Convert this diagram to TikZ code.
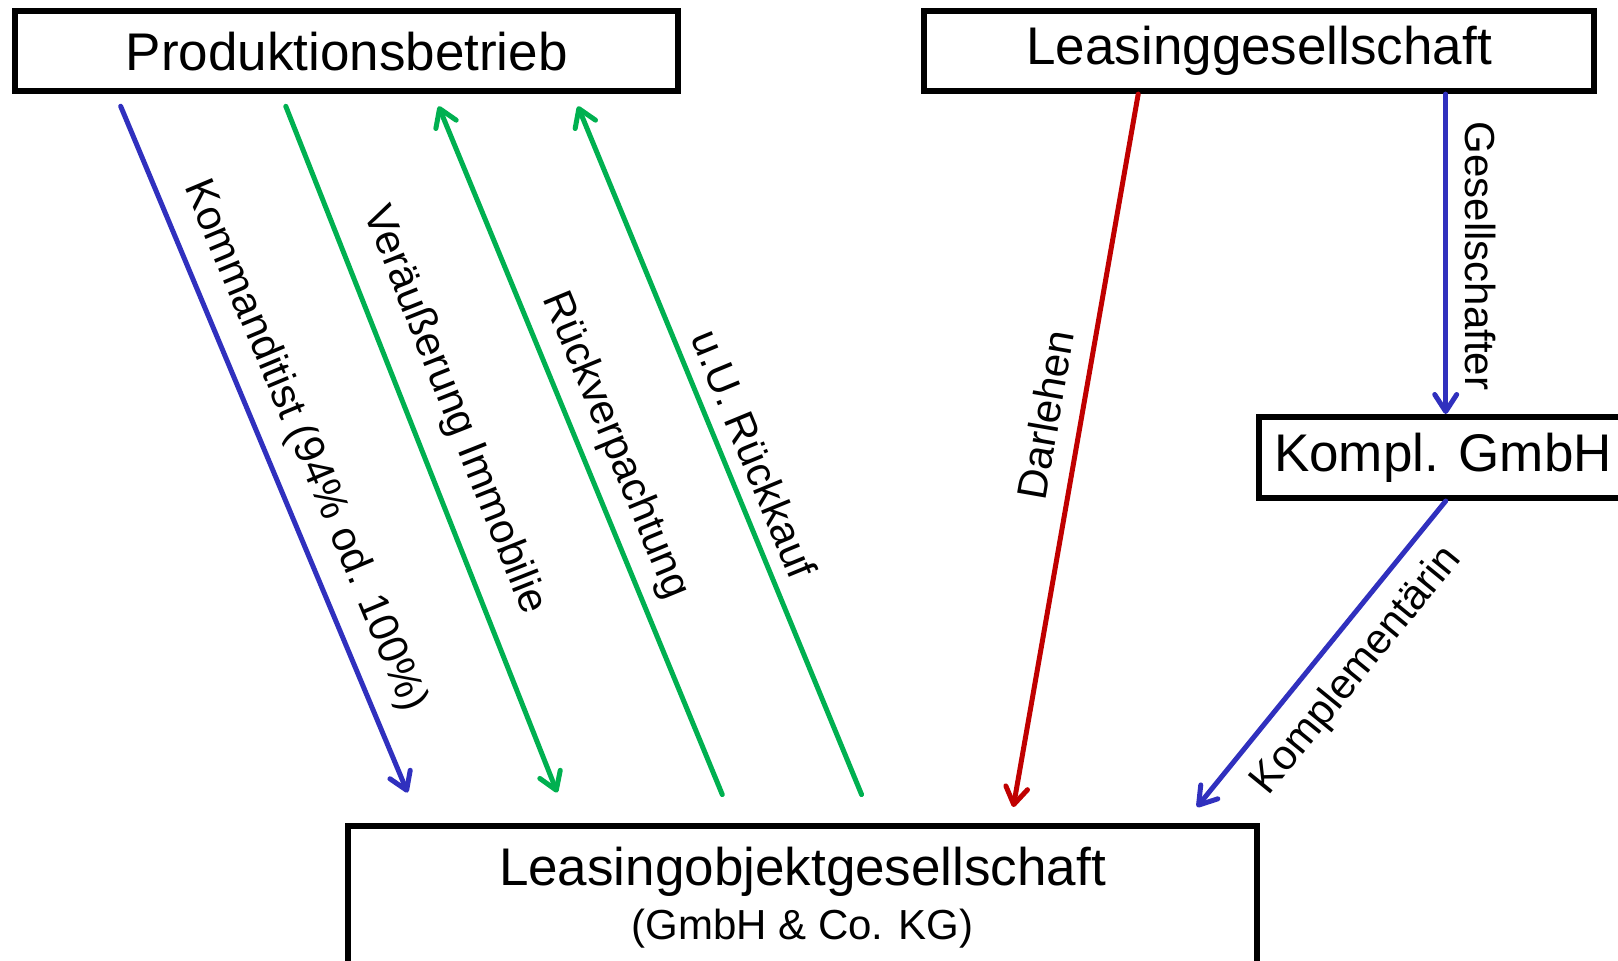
\documentclass[tikz,border=0pt]{standalone}
\usepackage{fontspec}
\setmainfont{Liberation Sans}
\usetikzlibrary{arrows.meta}
\definecolor{flowblue}{RGB}{48,48,190}
\definecolor{flowgreen}{RGB}{0,176,80}
\definecolor{flowred}{RGB}{192,0,0}
\begin{document}
\begin{tikzpicture}[x=0.5pt,y=-0.5pt,
  entity/.style={draw, line width=3pt, rectangle, inner sep=0pt,
    font=\fontsize{26.5}{27}\selectfont},
  flow/.style={line width=2.5pt, line cap=round,
    -{Straight Barb[length=8.5pt,width=11pt,round]}},
  lbl/.style={font=\fontsize{21}{25}\selectfont, inner sep=0pt},
]
\useasboundingbox (0,0) rectangle (1618,960);

% parties
\node[entity, minimum width=331.3pt, minimum height=39.9pt] (pb) at (346.7,51.2) {Produktionsbetrieb};
\node[entity, minimum width=334.75pt, minimum height=39.9pt] (lg) at (1259.2,51.2) {Leasinggesellschaft};
\node[entity, minimum width=184pt, minimum height=40.5pt] (kg) at (1443,457.5) {Kompl. GmbH};
\node[entity, minimum width=454.5pt, minimum height=72pt, align=center] (lo) at (802.5,898)
  {Leasingobjektgesellschaft\\{\fontsize{21}{27}\selectfont (GmbH \& Co. KG)}};

% free ends of the relations between the operating company and the object company
\coordinate (k1) at (120.7,106.3);  \coordinate (k2) at (407.6,792.5);
\coordinate (v1) at (285.8,106.3);  \coordinate (v2) at (557.2,792.5);
\coordinate (r1) at (722.3,794.6);  \coordinate (r2) at (438.6,106.3);
\coordinate (u1) at (861.6,794.6);  \coordinate (u2) at (577.9,106.3);
\coordinate (d2) at (1013.3,807);
\coordinate (c2) at (1197,807);
\coordinate (g1) at ([shift={(186.5,0)}]lg.south);

\draw[flow, flowblue]  (k1) -- (k2);
\draw[flow, flowgreen] (v1) -- (v2);
\draw[flow, flowgreen] (r1) -- (r2);
\draw[flow, flowgreen] (u1) -- (u2);
\draw[flow, flowred]   ([shift={(-121,0)}]lg.south) -- (d2);
\draw[flow, flowblue]  (g1) -- (g1 |- kg.north);
\draw[flow, flowblue]  (g1 |- kg.south) -- (c2);

% relation labels
\node[lbl, rotate=-67.3]  (lk) at (304.4,445.8) {Kommanditist (94\% od. 100\%)};
\node[lbl, rotate=-68.4]  (lv) at (454,410.7)   {Veräußerung Immobilie};
\node[lbl, rotate=-67.6]  (lr) at (615,445.8)   {Rückverpachtung};
\node[lbl, rotate=-67.6]  (lu) at (754.3,454)   {u.U. Rückkauf};
\node[lbl, rotate=80.1]   (ld) at (1045.3,414.8) {Darlehen};
\node[lbl, rotate=-90]    (lg2) at (1480.8,255.9) {Gesellschafter};
\node[lbl, rotate=50.85]  (lc) at (1357,670.7)  {Komplementärin};
\end{tikzpicture}
\end{document}
